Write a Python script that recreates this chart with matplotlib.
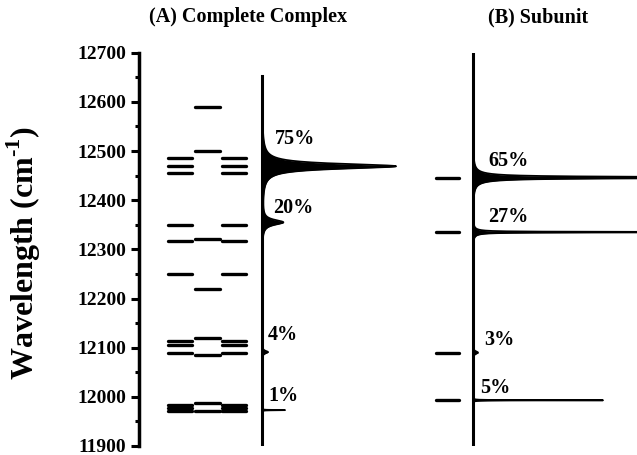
import numpy as np
import matplotlib
matplotlib.use("Agg")
import matplotlib.pyplot as plt
from matplotlib.ticker import MultipleLocator

plt.rcParams['font.family'] = ['Liberation Serif', 'DejaVu Serif']
plt.rcParams['font.weight'] = 'bold'
plt.rcParams['mathtext.fontset'] = 'custom'
plt.rcParams['mathtext.rm'] = 'Liberation Serif:bold'
plt.rcParams['mathtext.bf'] = 'Liberation Serif:bold'

# exciton levels (cm-1)
levels_side = [12485, 12470, 12455, 12350, 12318, 12250, 12114, 12105, 12090,
               11983, 11977, 11971]
levels_mid = [12590, 12500, 12322, 12220, 12120, 12085, 11988, 11972]
levels_sub = [12446, 12335, 12090, 11993]

# peaks: centre, height (px), width (cm-1)
peaks_A = [(12469, 134, 6.0), (12355, 21, 6.0), (12091, 6, 3.0), (11973, 23, 0.3)]
labels_A = ['75%', '20%', '4%', '1%']
peaks_B = [(12446, 420, 1.2), (12446, 20, 6.0), (12335, 500, 0.4), (12335, 7, 4.0),
           (12090, 5, 3.0), (11993, 130, 0.25)]
labels_B = ['65%', '27%', '3%', '5%']
label_pos_B = [12446, 12335, 12090, 11993]

fig = plt.figure(figsize=(6.37, 4.55), dpi=100)
ax = fig.add_axes([139 / 637, 9 / 455, 498 / 637, 393.3 / 455])
ax.set_xlim(0, 498)
ax.set_ylim(11900, 12700)

for s in ['top', 'right', 'bottom']:
    ax.spines[s].set_visible(False)
ax.spines['left'].set_linewidth(2.5)
ax.set_xticks([])
ax.yaxis.set_major_locator(MultipleLocator(100))
ax.yaxis.set_minor_locator(MultipleLocator(50))
ax.tick_params(axis='y', which='major', length=6, width=2.2, labelsize=14, pad=3)
ax.tick_params(axis='y', which='minor', length=3, width=2.2)
for t in ax.get_yticklabels():
    t.set_fontweight('bold')
ax.set_ylabel('Wavelength (cm$^{\\text{-}1}$)', fontsize=23, fontweight='bold')
ax.yaxis.set_label_coords(-96 / 498, 0.49)

lw = 2.4
ax.hlines(levels_side, 29, 53, color='black', lw=lw, capstyle='round')
ax.hlines(levels_side, 83, 107, color='black', lw=lw, capstyle='round')
ax.hlines(levels_mid, 56, 81, color='black', lw=lw, capstyle='round')
ax.hlines(levels_sub, 297, 320, color='black', lw=lw, capstyle='round')


def spectrum(peaks, base, top):
    v = np.linspace(11900, top, 8000)
    v = np.sort(np.concatenate([v, [p[0] for p in peaks]]))
    x = np.full_like(v, base, dtype=float)
    for c, a, g in peaks:
        x += a * g ** 2 / ((v - c) ** 2 + g ** 2)
    ax.fill_betweenx(v, base, x, color='black', lw=0)
    ax.plot(x, v, color='black', lw=1.3)
    ax.plot([base, base], [11900, top], color='black', lw=2.2)


spectrum(peaks_A, 123, 12652)
spectrum(peaks_B, 334, 12700)

offA = [(13, 55), (11, 30), (6, 34), (6, 28)]
for (c, a, g), lab, (dx, dv) in zip(peaks_A, labels_A, offA):
    ax.text(123 + dx, c + dv, lab, fontsize=14.5, fontweight='bold', va='center', ha='left')
offB = [(15, 33), (15, 30), (11, 25), (7, 24)]
for c, lab, (dx, dv) in zip(label_pos_B, labels_B, offB):
    ax.text(334 + dx, c + dv, lab, fontsize=14.5, fontweight='bold', va='center', ha='left')

fig.text(248 / 637, 1 - 17 / 455, '(A) Complete Complex', fontsize=14.5, fontweight='bold',
         ha='center', va='center')
fig.text(538 / 637, 1 - 17 / 455, '(B) Subunit', fontsize=14.5, fontweight='bold',
         ha='center', va='center')

fig.savefig('out.png', dpi=100)
